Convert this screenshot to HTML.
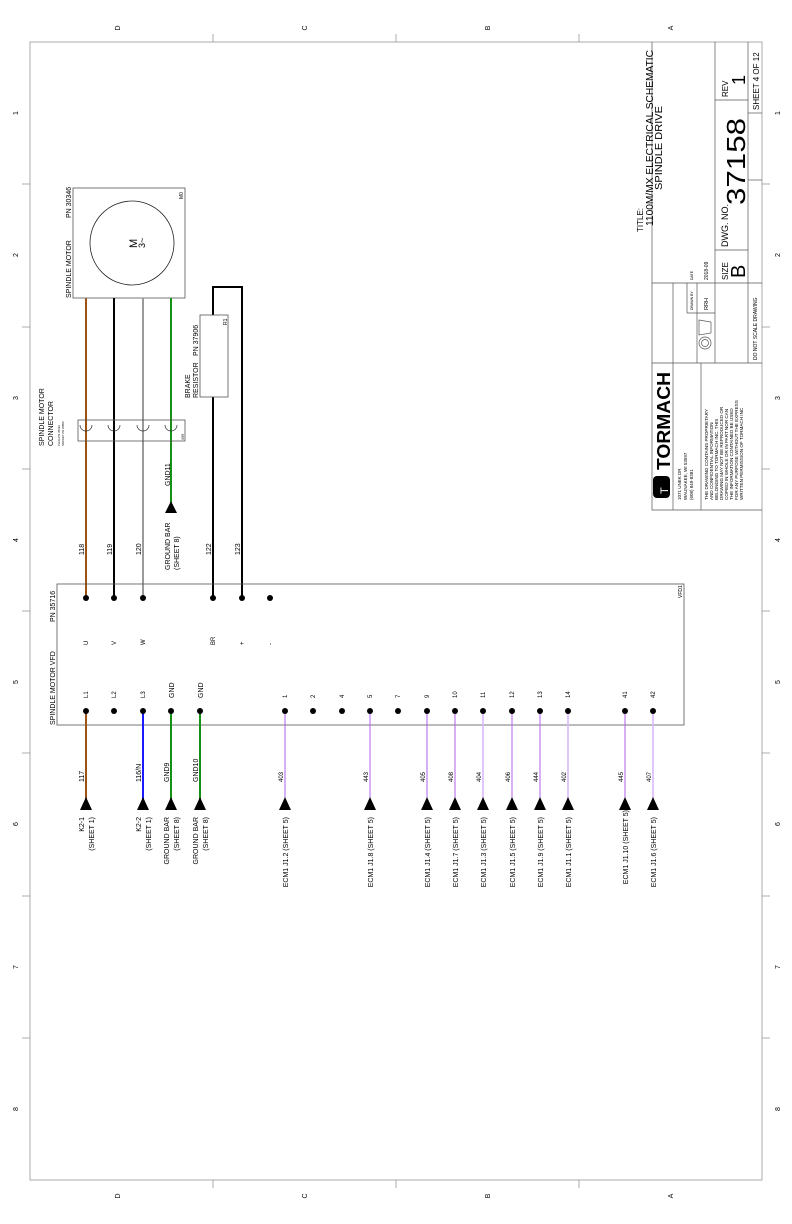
<!DOCTYPE html>
<html><head><meta charset="utf-8"><style>
html,body{margin:0;padding:0;background:#fff}
svg{display:block}
text{font-family:"Liberation Sans",sans-serif;fill:#000}
</style></head><body>
<svg width="792" height="1224" viewBox="0 0 792 1224" xmlns="http://www.w3.org/2000/svg">
<rect x="0" y="0" width="792" height="1224" fill="#fff"/>
<!-- frame -->
<rect x="30" y="42" width="732" height="1138" fill="none" stroke="#888" stroke-width="0.7"/>
<g stroke="#888" stroke-width="0.7">
<line x1="213" y1="34" x2="213" y2="42"/><line x1="396" y1="34" x2="396" y2="42"/><line x1="579" y1="34" x2="579" y2="42"/>
<line x1="213" y1="1180" x2="213" y2="1188"/><line x1="396" y1="1180" x2="396" y2="1188"/><line x1="579" y1="1180" x2="579" y2="1188"/>
<line x1="22" y1="184" x2="30" y2="184"/><line x1="22" y1="327" x2="30" y2="327"/><line x1="22" y1="469" x2="30" y2="469"/><line x1="22" y1="611" x2="30" y2="611"/><line x1="22" y1="753" x2="30" y2="753"/><line x1="22" y1="896" x2="30" y2="896"/><line x1="22" y1="1038" x2="30" y2="1038"/>
<line x1="762" y1="184" x2="770" y2="184"/><line x1="762" y1="327" x2="770" y2="327"/><line x1="762" y1="469" x2="770" y2="469"/><line x1="762" y1="611" x2="770" y2="611"/><line x1="762" y1="753" x2="770" y2="753"/><line x1="762" y1="896" x2="770" y2="896"/><line x1="762" y1="1038" x2="770" y2="1038"/>
</g>
<g font-size="7">
<text transform="translate(120,28) rotate(-90)" text-anchor="middle">D</text>
<text transform="translate(307,28) rotate(-90)" text-anchor="middle">C</text>
<text transform="translate(490,28) rotate(-90)" text-anchor="middle">B</text>
<text transform="translate(673,28) rotate(-90)" text-anchor="middle">A</text>
<text transform="translate(120,1196) rotate(-90)" text-anchor="middle">D</text>
<text transform="translate(307,1196) rotate(-90)" text-anchor="middle">C</text>
<text transform="translate(490,1196) rotate(-90)" text-anchor="middle">B</text>
<text transform="translate(673,1196) rotate(-90)" text-anchor="middle">A</text>
</g>
<g font-size="7" text-anchor="middle">
<text transform="translate(18,113) rotate(-90)">1</text><text transform="translate(18,255) rotate(-90)">2</text><text transform="translate(18,398) rotate(-90)">3</text><text transform="translate(18,540) rotate(-90)">4</text><text transform="translate(18,682) rotate(-90)">5</text><text transform="translate(18,824) rotate(-90)">6</text><text transform="translate(18,967) rotate(-90)">7</text><text transform="translate(18,1109) rotate(-90)">8</text>
<text transform="translate(780,113) rotate(-90)">1</text><text transform="translate(780,255) rotate(-90)">2</text><text transform="translate(780,398) rotate(-90)">3</text><text transform="translate(780,540) rotate(-90)">4</text><text transform="translate(780,682) rotate(-90)">5</text><text transform="translate(780,824) rotate(-90)">6</text><text transform="translate(780,967) rotate(-90)">7</text><text transform="translate(780,1109) rotate(-90)">8</text>
</g>

<!-- title block -->
<g stroke="#555" stroke-width="0.7" fill="none">
<polyline points="652,42 652,510 762,510"/>
<line x1="652" y1="283" x2="762" y2="283"/>
<line x1="652" y1="363" x2="762" y2="363"/>
<line x1="715" y1="42" x2="715" y2="283"/>
<line x1="748" y1="42" x2="748" y2="363"/>
<line x1="715" y1="100" x2="748" y2="100"/>
<line x1="715" y1="250" x2="748" y2="250"/>
<line x1="748" y1="113" x2="762" y2="113"/>
<line x1="748" y1="180" x2="762" y2="180"/>
<line x1="673" y1="283" x2="673" y2="363"/>
<line x1="687" y1="283" x2="687" y2="313"/>
<line x1="697" y1="283" x2="697" y2="363"/>
<line x1="687" y1="313" x2="715" y2="313"/>
<line x1="715" y1="283" x2="715" y2="363"/>
<line x1="673" y1="363" x2="673" y2="510"/>
<line x1="701" y1="363" x2="701" y2="510"/>
<circle cx="705" cy="343" r="6"/><circle cx="705" cy="343" r="3.5"/>
<polygon points="699,320 711,322 711,333 699,335"/>
</g>
<g font-size="9">
<text transform="translate(643,232) rotate(-90)" font-size="8">TITLE:</text>
<text transform="translate(653,226) rotate(-90)" font-size="10" textLength="176" lengthAdjust="spacingAndGlyphs">1100M/MX ELECTRICAL SCHEMATIC</text>
<text transform="translate(662,190) rotate(-90)" font-size="10" textLength="84" lengthAdjust="spacingAndGlyphs">SPINDLE DRIVE</text>
<text transform="translate(728,280) rotate(-90)" font-size="8">SIZE</text>
<text transform="translate(745,278) rotate(-90)" font-size="20">B</text>
<text transform="translate(728,247) rotate(-90)" font-size="9">DWG. NO.</text>
<text transform="translate(745,205) rotate(-90)" font-size="26" textLength="87" lengthAdjust="spacingAndGlyphs">37158</text>
<text transform="translate(728,97) rotate(-90)" font-size="8">REV</text>
<text transform="translate(745,85) rotate(-90)" font-size="18">1</text>
<text transform="translate(759,110) rotate(-90)" font-size="8">SHEET 4 OF 12</text>
<text transform="translate(757,360) rotate(-90)" font-size="5">DO NOT SCALE DRAWING</text>
<text transform="translate(693,310) rotate(-90)" font-size="3.5">DRAWN BY</text>
<text transform="translate(693,280) rotate(-90)" font-size="3.5">DATE</text>
<text transform="translate(708,310) rotate(-90)" font-size="5.5">RRH</text>
<text transform="translate(708,280) rotate(-90)" font-size="5">2018-09</text>
<rect x="653" y="476" width="17" height="22" rx="4" fill="#000"/>
<text transform="translate(668,494) rotate(-90)" font-size="11" style="fill:#fff">T</text>
<text transform="translate(670,470) rotate(-90)" font-size="18" font-weight="bold" textLength="98" lengthAdjust="spacingAndGlyphs">TORMACH</text>
<text transform="translate(681,500) rotate(-90)" font-size="4.5">1071 UNEK DR</text>
<text transform="translate(687,500) rotate(-90)" font-size="4.5">WAUNAKEE, WI 53597</text>
<text transform="translate(693,500) rotate(-90)" font-size="4.5">(608) 849-8381</text>
<g font-size="4.6">
<text transform="translate(708,500) rotate(-90)">THE DRAWING CONTAINS PROPRIETARY</text>
<text transform="translate(713,500) rotate(-90)">AND CONFIDENTIAL INFORMATION</text>
<text transform="translate(718,500) rotate(-90)">BELONGING TO TORMACH INC. THIS</text>
<text transform="translate(723,500) rotate(-90)">DRAWING MAY NOT BE REPRODUCED OR</text>
<text transform="translate(728,500) rotate(-90)">COPIED IN WHOLE OR IN PART NOR CAN</text>
<text transform="translate(733,500) rotate(-90)">THE INFORMATION CONTAINED BE USED</text>
<text transform="translate(738,500) rotate(-90)">FOR ANY PURPOSE WITHOUT THE EXPRESS</text>
<text transform="translate(743,500) rotate(-90)">WRITTEN PERMISSION OF TORMACH INC</text>
</g>
</g>

<!-- motor -->
<rect x="73" y="188" width="112" height="110" fill="#fff" stroke="#555" stroke-width="0.8"/>
<circle cx="132" cy="243" r="42" fill="none" stroke="#222" stroke-width="0.8"/>
<text transform="translate(137,248) rotate(-90)" font-size="11">M</text>
<text transform="translate(145,248) rotate(-90)" font-size="9">3~</text>
<text transform="translate(71,298) rotate(-90)" font-size="7">SPINDLE MOTOR</text>
<text transform="translate(71,218) rotate(-90)" font-size="7">PN 30346</text>
<text transform="translate(183,199) rotate(-90)" font-size="5">M0</text>

<!-- wires top -->
<line x1="86" y1="298" x2="86" y2="598" stroke="#9a5312" stroke-width="2"/>
<line x1="114" y1="298" x2="114" y2="598" stroke="#000" stroke-width="2"/>
<line x1="143" y1="298" x2="143" y2="598" stroke="#9a9a9a" stroke-width="2"/>
<line x1="171" y1="298" x2="171" y2="505" stroke="#179017" stroke-width="2"/>
<polyline points="213,598 213,397" fill="none" stroke="#000" stroke-width="2"/>
<polyline points="213,315 213,287 242,287 242,598" fill="none" stroke="#000" stroke-width="2"/>

<!-- connector -->
<rect x="78" y="420" width="107" height="21" fill="none" stroke="#555" stroke-width="0.8"/>
<g fill="none" stroke="#333" stroke-width="0.7">
<path d="M80,425 a6,6 0 0 0 12,0"/><path d="M108,425 a6,6 0 0 0 12,0"/><path d="M137,425 a6,6 0 0 0 12,0"/><path d="M165,425 a6,6 0 0 0 12,0"/>
</g>
<text transform="translate(44,446) rotate(-90)" font-size="7">SPINDLE MOTOR</text>
<text transform="translate(53,446) rotate(-90)" font-size="7">CONNECTOR</text>
<text transform="translate(60,446) rotate(-90)" font-size="2.8">PLUG PN 35193</text>
<text transform="translate(64,446) rotate(-90)" font-size="2.8">SOCKET PN 35850</text>
<text transform="translate(184,440) rotate(-90)" font-size="3.5">X59</text>

<!-- brake resistor -->
<rect x="200" y="315" width="28" height="82" fill="#fff" stroke="#555" stroke-width="0.8"/>
<text transform="translate(190,398) rotate(-90)" font-size="7">BRAKE</text>
<text transform="translate(198,398) rotate(-90)" font-size="7">RESISTOR</text>
<text transform="translate(198,356) rotate(-90)" font-size="7">PN 37906</text>
<text transform="translate(227,325) rotate(-90)" font-size="5">R1</text>

<!-- GND11 arrow -->
<polygon points="171,501 165,513 177,513" fill="#000"/>
<text transform="translate(170,486) rotate(-90)" font-size="7">GND11</text>
<text transform="translate(170,570) rotate(-90)" font-size="7">GROUND BAR</text>
<text transform="translate(179,570) rotate(-90)" font-size="7">(SHEET 8)</text>
<g font-size="7">
<text transform="translate(84,555) rotate(-90)">118</text>
<text transform="translate(112,555) rotate(-90)">119</text>
<text transform="translate(141,555) rotate(-90)">120</text>
<text transform="translate(211,555) rotate(-90)">122</text>
<text transform="translate(240,555) rotate(-90)">123</text>
</g>

<!-- VFD -->
<rect x="57" y="584" width="627" height="141" fill="none" stroke="#555" stroke-width="0.8"/>
<text transform="translate(55,725) rotate(-90)" font-size="7">SPINDLE MOTOR VFD</text>
<text transform="translate(55,622) rotate(-90)" font-size="7">PN 35716</text>
<text transform="translate(682,598) rotate(-90)" font-size="5">VFD1</text>
<g fill="#000">
<circle cx="86" cy="598" r="3"/><circle cx="114" cy="598" r="3"/><circle cx="143" cy="598" r="3"/><circle cx="213" cy="598" r="3"/><circle cx="242" cy="598" r="3"/><circle cx="270" cy="598" r="3"/>
</g>
<g font-size="6">
<text transform="translate(88,645) rotate(-90)">U</text>
<text transform="translate(116,645) rotate(-90)">V</text>
<text transform="translate(145,645) rotate(-90)">W</text>
<text transform="translate(215,645) rotate(-90)">BR</text>
<text transform="translate(244,645) rotate(-90)">+</text>
<text transform="translate(272,645) rotate(-90)">-</text>
</g>

<!-- bottom wires -->
<line x1="86" y1="711" x2="86" y2="800" stroke="#9a5312" stroke-width="2"/>
<line x1="143" y1="711" x2="143" y2="800" stroke="#1a1aff" stroke-width="2"/>
<line x1="171" y1="711" x2="171" y2="800" stroke="#179017" stroke-width="2"/>
<line x1="200" y1="711" x2="200" y2="800" stroke="#179017" stroke-width="2"/>
<g stroke-width="1">
<line x1="285" y1="711" x2="285" y2="800" stroke="#b060f0"/>
<line x1="370" y1="711" x2="370" y2="800" stroke="#b060f0"/>
<line x1="427" y1="711" x2="427" y2="800" stroke="#b060f0"/>
<line x1="455" y1="711" x2="455" y2="800" stroke="#b060f0"/>
<line x1="483" y1="711" x2="483" y2="800" stroke="#d8b8f8" stroke-width="1.6"/>
<line x1="512" y1="711" x2="512" y2="800" stroke="#b060f0"/>
<line x1="540" y1="711" x2="540" y2="800" stroke="#b060f0"/>
<line x1="568" y1="711" x2="568" y2="800" stroke="#d8b8f8" stroke-width="1.6"/>
<line x1="625" y1="711" x2="625" y2="800" stroke="#b060f0"/>
<line x1="653" y1="711" x2="653" y2="800" stroke="#d8b8f8" stroke-width="1.6"/>
</g>
<g fill="#000">
<circle cx="86" cy="711" r="3"/><circle cx="114" cy="711" r="3"/><circle cx="143" cy="711" r="3"/><circle cx="171" cy="711" r="3"/><circle cx="200" cy="711" r="3"/>
<circle cx="285" cy="711" r="3"/><circle cx="313" cy="711" r="3"/><circle cx="342" cy="711" r="3"/><circle cx="370" cy="711" r="3"/><circle cx="398" cy="711" r="3"/><circle cx="427" cy="711" r="3"/><circle cx="455" cy="711" r="3"/><circle cx="483" cy="711" r="3"/><circle cx="512" cy="711" r="3"/><circle cx="540" cy="711" r="3"/><circle cx="568" cy="711" r="3"/><circle cx="625" cy="711" r="3"/><circle cx="653" cy="711" r="3"/>
</g>
<g font-size="6">
<text transform="translate(88,698) rotate(-90)">L1</text>
<text transform="translate(116,698) rotate(-90)">L2</text>
<text transform="translate(145,698) rotate(-90)">L3</text>
<text transform="translate(174,698) rotate(-90)" font-size="7">GND</text>
<text transform="translate(203,698) rotate(-90)" font-size="7">GND</text>
<text transform="translate(287,698) rotate(-90)">1</text>
<text transform="translate(315,698) rotate(-90)">2</text>
<text transform="translate(344,698) rotate(-90)">4</text>
<text transform="translate(372,698) rotate(-90)">5</text>
<text transform="translate(400,698) rotate(-90)">7</text>
<text transform="translate(429,698) rotate(-90)">9</text>
<text transform="translate(457,698) rotate(-90)">10</text>
<text transform="translate(485,698) rotate(-90)">11</text>
<text transform="translate(514,698) rotate(-90)">12</text>
<text transform="translate(542,698) rotate(-90)">13</text>
<text transform="translate(570,698) rotate(-90)">14</text>
<text transform="translate(627,698) rotate(-90)">41</text>
<text transform="translate(655,698) rotate(-90)">42</text>
</g>

<!-- arrows -->
<g fill="#000">
<polygon points="86,797 80,810 92,810"/><polygon points="143,797 137,810 149,810"/><polygon points="171,797 165,810 177,810"/><polygon points="200,797 194,810 206,810"/>
<polygon points="285,797 279,810 291,810"/><polygon points="370,797 364,810 376,810"/><polygon points="427,797 421,810 433,810"/><polygon points="455,797 449,810 461,810"/><polygon points="483,797 477,810 489,810"/><polygon points="512,797 506,810 518,810"/><polygon points="540,797 534,810 546,810"/><polygon points="568,797 562,810 574,810"/><polygon points="625,797 619,810 631,810"/><polygon points="653,797 647,810 659,810"/>
</g>
<g font-size="7">
<text transform="translate(84,782) rotate(-90)">117</text>
<text transform="translate(141,782) rotate(-90)">116/N</text>
<text transform="translate(169,782) rotate(-90)">GND9</text>
<text transform="translate(198,782) rotate(-90)">GND10</text>
<text transform="translate(283,782) rotate(-90)" font-size="6">403</text>
<text transform="translate(368,782) rotate(-90)" font-size="6">443</text>
<text transform="translate(425,782) rotate(-90)" font-size="6">405</text>
<text transform="translate(453,782) rotate(-90)" font-size="6">408</text>
<text transform="translate(481,782) rotate(-90)" font-size="6">404</text>
<text transform="translate(510,782) rotate(-90)" font-size="6">406</text>
<text transform="translate(538,782) rotate(-90)" font-size="6">444</text>
<text transform="translate(566,782) rotate(-90)" font-size="6">402</text>
<text transform="translate(623,782) rotate(-90)" font-size="6">445</text>
<text transform="translate(651,782) rotate(-90)" font-size="6">407</text>
</g>
<g font-size="7" text-anchor="end">
<text transform="translate(84,817) rotate(-90)">K2-1</text>
<text transform="translate(94,817) rotate(-90)">(SHEET 1)</text>
<text transform="translate(141,817) rotate(-90)">K2-2</text>
<text transform="translate(151,817) rotate(-90)">(SHEET 1)</text>
<text transform="translate(169,817) rotate(-90)">GROUND BAR</text>
<text transform="translate(179,817) rotate(-90)">(SHEET 8)</text>
<text transform="translate(198,817) rotate(-90)">GROUND BAR</text>
<text transform="translate(208,817) rotate(-90)">(SHEET 8)</text>
<text transform="translate(288,817) rotate(-90)">ECM1 J1.2 (SHEET 5)</text>
<text transform="translate(373,817) rotate(-90)">ECM1 J1.8 (SHEET 5)</text>
<text transform="translate(430,817) rotate(-90)">ECM1 J1.4 (SHEET 5)</text>
<text transform="translate(458,817) rotate(-90)">ECM1 J1.7 (SHEET 5)</text>
<text transform="translate(486,817) rotate(-90)">ECM1 J1.3 (SHEET 5)</text>
<text transform="translate(515,817) rotate(-90)">ECM1 J1.5 (SHEET 5)</text>
<text transform="translate(543,817) rotate(-90)">ECM1 J1.9 (SHEET 5)</text>
<text transform="translate(571,817) rotate(-90)">ECM1 J1.1 (SHEET 5)</text>
<text transform="translate(628,810) rotate(-90)">ECM1 J1.10 (SHEET 5)</text>
<text transform="translate(656,817) rotate(-90)">ECM1 J1.6 (SHEET 5)</text>
</g>
</svg>
</body></html>
